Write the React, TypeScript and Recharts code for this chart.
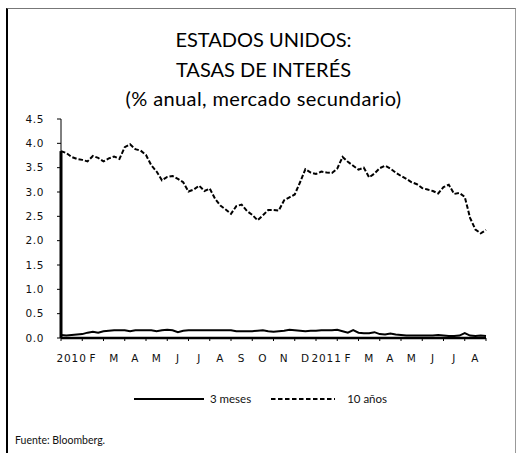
import { Line, LineChart, XAxis, YAxis } from "recharts";

// month labels, one per month from Jan 2010 to Aug 2011
const monthLabels = ["2010", "F", "M", "A", "M", "J", "J", "A", "S", "O", "N", "D", "2011", "F", "M", "A", "M", "J", "J", "A"];
const yTicks = [0, 0.5, 1, 1.5, 2, 2.5, 3, 3.5, 4, 4.5];

// sampled 4 times a month (quarter-month steps), % per year
const threeMonth = [
  0.06, 0.05, 0.06, 0.07, 0.08, 0.11, 0.13, 0.11, 0.14, 0.15, 0.16, 0.16, 0.16, 0.14, 0.16, 0.16,
  0.16, 0.16, 0.14, 0.16, 0.17, 0.16, 0.12, 0.15, 0.16, 0.16, 0.16, 0.16, 0.16, 0.16, 0.16, 0.16,
  0.16, 0.14, 0.14, 0.14, 0.14, 0.15, 0.16, 0.14, 0.13, 0.14, 0.15, 0.17, 0.16, 0.15, 0.14, 0.15,
  0.15, 0.16, 0.16, 0.16, 0.17, 0.14, 0.11, 0.16, 0.11, 0.1, 0.1, 0.12, 0.08, 0.07, 0.09, 0.07,
  0.06, 0.05, 0.05, 0.05, 0.05, 0.05, 0.05, 0.06, 0.05, 0.04, 0.04, 0.05, 0.1, 0.05, 0.04, 0.05,
  0.04,
];
const tenYear = [
  3.84, 3.8, 3.72, 3.68, 3.66, 3.63, 3.74, 3.7, 3.63, 3.69, 3.73, 3.68, 3.92, 3.98, 3.88, 3.85,
  3.76, 3.55, 3.42, 3.24, 3.31, 3.33, 3.27, 3.2, 3.01, 3.05, 3.13, 3.02, 3.07, 2.86, 2.72, 2.64,
  2.55, 2.71, 2.74, 2.61, 2.53, 2.42, 2.52, 2.63, 2.63, 2.62, 2.83, 2.89, 2.95, 3.2, 3.47, 3.4,
  3.37, 3.42, 3.4, 3.39, 3.48, 3.72, 3.62, 3.54, 3.46, 3.5, 3.3, 3.38, 3.49, 3.54, 3.48, 3.4,
  3.33, 3.27, 3.2, 3.16, 3.08, 3.05, 3.02, 2.97, 3.1, 3.15, 2.96, 2.98, 2.9, 2.47, 2.23, 2.15,
  2.22,
];
// the source series opens with a blank (zero) reading, drawn as a solid jump
const tenYearOpening = 0;

const PER_MONTH = 4;
const monthTicks = monthLabels.map((_, i) => i * PER_MONTH).concat(monthLabels.length * PER_MONTH);

const data = [
  { t: 0, tenYearStart: tenYearOpening } as Record<string, number>,
  ...tenYear.map((v, t) => ({
    t,
    threeMonth: threeMonth[t],
    tenYear: v,
    ...(t === 0 ? { tenYearStart: v } : {}),
  })),
];

const TEXT_FONT = "Lato, 'Open Sans', sans-serif";
const AXIS_FONT = "'DejaVu Sans', sans-serif";
const HALF_MONTH = 425 / monthLabels.length / 2;

function MonthTick(props: any) {
  const { x, y, payload } = props;
  const label = monthLabels[payload.value / PER_MONTH];
  if (!label) return null;
  return (
    <text x={x + HALF_MONTH} y={y + 19} textAnchor="middle" fontSize={10.5} fontFamily={AXIS_FONT} fill="#111" letterSpacing={0.9}>
      {label}
    </text>
  );
}

function LegendBox() {
  return (
    <div style={{ display: "flex", justifyContent: "center", alignItems: "center", fontFamily: TEXT_FONT, fontSize: 11.5, color: "#111" }}>
      <svg width={70} height={6} style={{ marginRight: 6 }}>
        <line x1={0} y1={3} x2={70} y2={3} stroke="#000" strokeWidth={2} />
      </svg>
      <span style={{ marginRight: 20 }}>3 meses</span>
      <svg width={64} height={6} style={{ marginRight: 12 }}>
        <line x1={0} y1={3} x2={64} y2={3} stroke="#000" strokeWidth={2} strokeDasharray="4.5 2.5" />
      </svg>
      <span>10 años</span>
    </div>
  );
}

export default function App() {
  return (
    <div style={{ position: "absolute", left: 0, top: 0, width: 521, height: 453, background: "#fff" }}>
      <div
        style={{
          position: "absolute",
          left: 6,
          top: 8,
          width: 507,
          height: 444,
          borderTop: "1px solid #777",
          borderRight: "1px solid #999",
          borderLeft: "2px solid #000",
        }}
      />
      <div style={{ position: "absolute", left: 3, top: 24, width: 521, textAlign: "center", fontFamily: TEXT_FONT, color: "#000" }}>
        <div style={{ fontSize: 20, lineHeight: "30px" }}>ESTADOS UNIDOS:</div>
        <div style={{ fontSize: 20, lineHeight: "30px" }}>TASAS DE INTERÉS</div>
        <div style={{ fontSize: 20, lineHeight: "28px", letterSpacing: 0.4 }}>(% anual, mercado secundario)</div>
      </div>
      <div style={{ position: "absolute", left: 0, top: 0 }}>
        <LineChart width={521} height={453} data={data} margin={{ top: 119, right: 35, bottom: 85, left: 21 }}>
          <XAxis
            dataKey="t"
            type="number"
            domain={[0, monthLabels.length * PER_MONTH]}
            ticks={monthTicks}
            interval={0}
            tick={<MonthTick />}
            tickSize={3}
            height={30}
            axisLine={{ stroke: "#000", strokeWidth: 2.5 }}
            tickLine={{ stroke: "#000" }}
          />
          <YAxis
            type="number"
            domain={[0, 4.5]}
            ticks={yTicks}
            width={40}
            tickSize={4}
            tickMargin={13}
            tickFormatter={(v: number) => v.toFixed(1)}
            tick={{ fontSize: 10.5, fontFamily: AXIS_FONT, fill: "#111", letterSpacing: 0.6 }}
            axisLine={{ stroke: "#000" }}
            tickLine={{ stroke: "#000" }}
          />
          <Line type="linear" dataKey="threeMonth" stroke="#000" strokeWidth={2} dot={false} isAnimationActive={false} name="3 meses" />
          <Line type="linear" dataKey="tenYear" stroke="#000" strokeWidth={2} strokeDasharray="4.5 2" dot={false} isAnimationActive={false} name="10 años" />
          <Line type="linear" dataKey="tenYearStart" stroke="#000" strokeWidth={3} dot={false} isAnimationActive={false} legendType="none" />
        </LineChart>
      </div>
      <div style={{ position: "absolute", left: 0, top: 392, width: 521 }}>
        <LegendBox />
      </div>
      <div style={{ position: "absolute", left: 15, top: 434, fontFamily: TEXT_FONT, fontSize: 10.5, color: "#111" }}>Fuente: Bloomberg.</div>
    </div>
  );
}
